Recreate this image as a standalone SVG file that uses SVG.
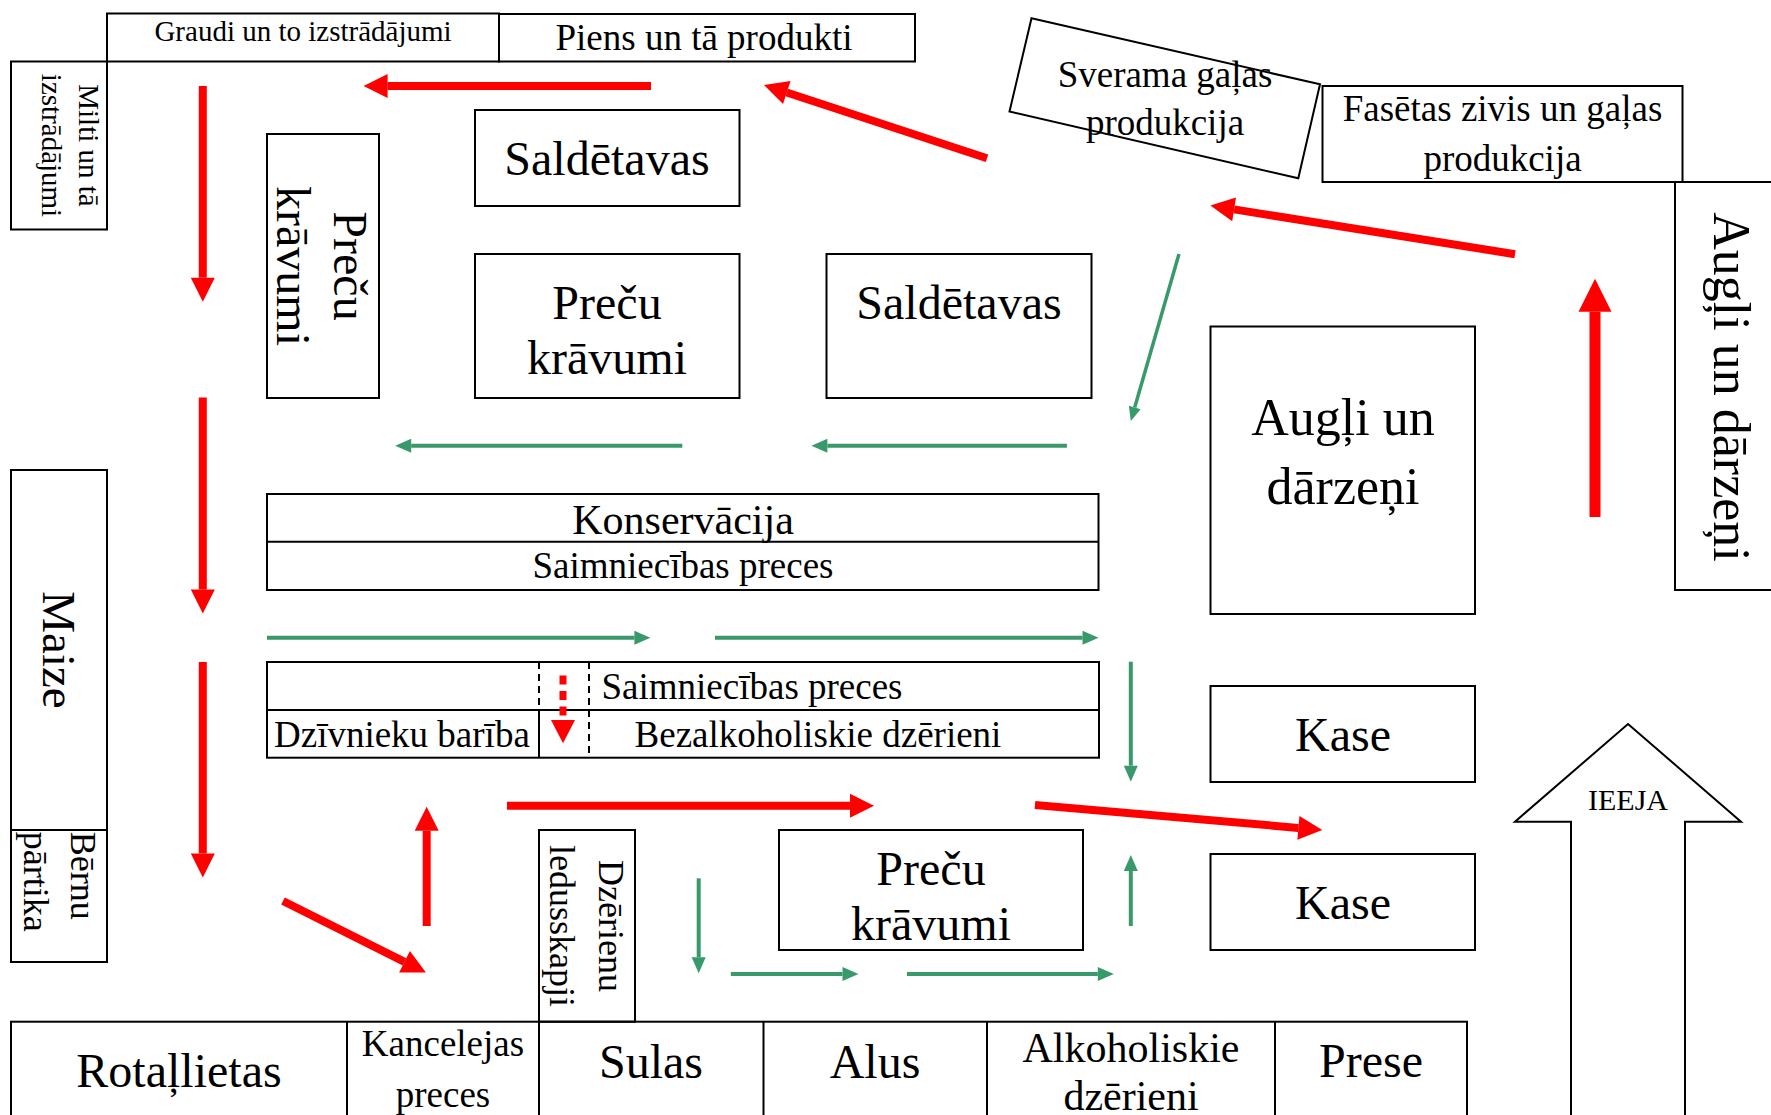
<svg xmlns="http://www.w3.org/2000/svg" width="1771" height="1115" viewBox="0 0 1771 1115">
<style>
.box{fill:none;stroke:#000;stroke-width:2}
.t{font-family:"Liberation Serif","Times New Roman",serif;fill:#000;text-anchor:middle}
.s{text-anchor:start}
.f29{font-size:29px}.f30{font-size:30px}.f36{font-size:36px}.f37{font-size:37px}.f42{font-size:42px}.f47{font-size:47px}.f48{font-size:48px}.f52{font-size:52px}
.red{stroke:#ff0000;stroke-width:8;fill:none;marker-end:url(#rh)}
.grn{stroke:#38996a;stroke-width:4;fill:none;marker-end:url(#gh)}
</style>
<defs>
<marker id="rh" markerUnits="strokeWidth" markerWidth="3" markerHeight="3" refX="0" refY="1.5" orient="auto" overflow="visible"><path d="M0,0 L3,1.5 L0,3 z" fill="#ff0000"/></marker>
<marker id="gh" markerUnits="strokeWidth" markerWidth="4" markerHeight="3.5" refX="0" refY="1.75" orient="auto" overflow="visible"><path d="M0,0 L4,1.75 L0,3.5 z" fill="#38996a"/></marker>
</defs>
<rect width="1771" height="1115" fill="#fff"/>

<g id="graudi"><rect class="box" x="107" y="13.5" width="392" height="48"/><text class="t f29" x="303" y="41">Graudi un to izstrādājumi</text></g>
<g id="piens"><rect class="box" x="499" y="14" width="416" height="47.5"/><text class="t f37" x="704" y="50">Piens un tā produkti</text></g>
<g id="milti"><rect class="box" x="11" y="61.5" width="96" height="168"/>
<text class="t f29" transform="translate(79,145.5) rotate(90)">Milti un tā</text>
<text class="t f29" transform="translate(42,145.5) rotate(90)">izstrādājumi</text></g>
<g id="precu-vert"><rect class="box" x="267" y="134" width="112" height="264"/>
<text class="t f48" transform="translate(333.5,266) rotate(90)">Preču</text>
<text class="t f48" transform="translate(277,266) rotate(90)">krāvumi</text></g>
<g id="saldetavas1"><rect class="box" x="475" y="110" width="264.5" height="96"/><text class="t f48" x="607" y="175">Saldētavas</text></g>
<g id="precu2"><rect class="box" x="475" y="254" width="264.5" height="144"/><text class="t f48" x="607" y="319">Preču</text><text class="t f48" x="607" y="374">krāvumi</text></g>
<g id="saldetavas2"><rect class="box" x="826.5" y="254" width="265" height="144"/><text class="t f48" x="959" y="319">Saldētavas</text></g>
<g id="sverama"><polygon class="box" points="1031.5,18.3 1320,84.3 1298.3,178.3 1009.5,111.5"/>
<text class="t f37" x="1165" y="86.5">Sverama gaļas</text><text class="t f37" x="1165" y="134.5">produkcija</text></g>
<g id="fasetas"><rect class="box" x="1322.5" y="86" width="360" height="96"/>
<text class="t f37" x="1502.5" y="121">Fasētas zivis un gaļas</text><text class="t f37" x="1502.5" y="170.5">produkcija</text></g>
<g id="augli-vert"><rect class="box" x="1675" y="182" width="130" height="408"/>
<text class="t f52" transform="translate(1714,387) rotate(90)">Augļi un dārzeņi</text></g>
<g id="augli"><rect class="box" x="1210.5" y="326.5" width="264.5" height="287.5"/>
<text class="t f52" x="1343" y="435">Augļi un</text><text class="t f52" x="1343" y="504">dārzeņi</text></g>
<g id="konservacija"><rect class="box" x="267" y="494" width="831.5" height="96"/><line class="box" x1="267" y1="541.7" x2="1098.5" y2="541.7"/>
<text class="t f42" x="683" y="534">Konservācija</text><text class="t f37" x="683" y="578">Saimniecības preces</text></g>
<g id="table2"><rect class="box" x="267" y="662" width="832" height="95.7"/>
<line class="box" x1="267" y1="710" x2="1099" y2="710"/>
<line class="box" x1="539" y1="662" x2="539" y2="710" stroke-dasharray="7 5"/>
<line class="box" x1="539" y1="710" x2="539" y2="757.7"/>
<line class="box" x1="589" y1="662" x2="589" y2="757.7" stroke-dasharray="7 5"/>
<text class="t f37 s" x="274" y="746.5">Dzīvnieku barība</text>
<text class="t f37 s" x="601.5" y="698.5">Saimniecības preces</text>
<text class="t f37" x="818" y="746.5">Bezalkoholiskie dzērieni</text></g>
<g id="kase1"><rect class="box" x="1210.5" y="686" width="264.5" height="96"/><text class="t f48" x="1343" y="751">Kase</text></g>
<g id="kase2"><rect class="box" x="1210.5" y="854" width="264.5" height="96"/><text class="t f48" x="1343" y="919">Kase</text></g>
<g id="maize"><rect class="box" x="11" y="470" width="96" height="360"/>
<text class="t f47" transform="translate(43,650) rotate(90)">Maize</text></g>
<g id="bernu"><rect class="box" x="11" y="830" width="96" height="132"/>
<text class="t f36 s" transform="translate(71,831.7) rotate(90)">Bērnu</text>
<text class="t f36 s" transform="translate(24,831.7) rotate(90)">pārtika</text></g>
<g id="dzerienu"><rect class="box" x="539" y="830" width="96" height="191.7"/>
<text class="t f36" transform="translate(599,926) rotate(90)">Dzērienu</text>
<text class="t f36" transform="translate(550,926) rotate(90)">ledusskapji</text></g>
<g id="precu3"><rect class="box" x="779" y="830" width="304" height="120"/>
<text class="t f48" x="931" y="885">Preču</text><text class="t f48" x="931" y="940">krāvumi</text></g>
<g id="bottom-row"><rect class="box" x="11" y="1021.7" width="1456" height="130"/>
<line class="box" x1="347" y1="1021.7" x2="347" y2="1115"/>
<line class="box" x1="539" y1="1021.7" x2="539" y2="1115"/>
<line class="box" x1="763.5" y1="1021.7" x2="763.5" y2="1115"/>
<line class="box" x1="987" y1="1021.7" x2="987" y2="1115"/>
<line class="box" x1="1275" y1="1021.7" x2="1275" y2="1115"/>
<text class="t f48" x="179" y="1087">Rotaļlietas</text>
<text class="t f37" x="443" y="1056">Kancelejas</text><text class="t f37" x="443" y="1106.5">preces</text>
<text class="t f48" x="651" y="1078">Sulas</text>
<text class="t f48" x="875" y="1078">Alus</text>
<text class="t f42" x="1131" y="1062">Alkoholiskie</text><text class="t f42" x="1131" y="1110">dzērieni</text>
<text class="t f48" x="1371" y="1077">Prese</text></g>
<g id="ieeja"><polygon fill="#fff" stroke="#000" stroke-width="2" points="1628,724 1741,821.7 1685,821.7 1685,1130 1571,1130 1571,821.7 1515,821.7"/>
<text class="t f30" x="1628" y="810">IEEJA</text></g>

<g id="connectors">
<line class="red" x1="651" y1="86" x2="387.6" y2="86"/>
<line class="red" x1="987" y1="158.3" x2="786.8" y2="92.5"/>
<line class="red" x1="1515" y1="254.2" x2="1234.1" y2="209.4"/>
<line class="red" x1="1595" y1="517" x2="1595" y2="311.8" style="stroke-width:11"/>
<line class="red" x1="202.8" y1="86" x2="202.8" y2="277.7"/>
<line class="red" x1="202.8" y1="397.6" x2="202.8" y2="589.5"/>
<line class="red" x1="202.8" y1="662" x2="202.8" y2="853.6"/>
<line class="red" x1="283" y1="901" x2="404.5" y2="961.8"/>
<line class="red" x1="426.7" y1="926" x2="426.7" y2="830.8"/>
<line class="red" x1="507" y1="805.7" x2="850" y2="805.7"/>
<line class="red" x1="1035" y1="805" x2="1298.4" y2="827.9"/>
<line x1="563" y1="675.5" x2="563" y2="716" stroke="#ff0000" stroke-width="7" stroke-dasharray="9 6.5"/>
<polygon points="551,720 575,720 563,743.3" fill="#ff0000"/>
<line class="grn" x1="682.3" y1="445.7" x2="411.2" y2="445.7"/>
<line class="grn" x1="1066.9" y1="445.7" x2="827.4" y2="445.7"/>
<line class="grn" x1="1179" y1="254" x2="1134.7" y2="407.5" style="stroke-width:3.5"/>
<line class="grn" x1="267" y1="637.7" x2="634.4" y2="637.7"/>
<line class="grn" x1="715" y1="637.7" x2="1082.5" y2="637.7"/>
<line class="grn" x1="1130.8" y1="661.7" x2="1130.8" y2="765.7"/>
<line class="grn" x1="698.7" y1="878.3" x2="698.7" y2="957.3"/>
<line class="grn" x1="730.8" y1="974" x2="842.5" y2="974"/>
<line class="grn" x1="907" y1="974" x2="1097.8" y2="974"/>
<line class="grn" x1="1130.8" y1="926" x2="1130.8" y2="871"/>
</g>
</svg>
